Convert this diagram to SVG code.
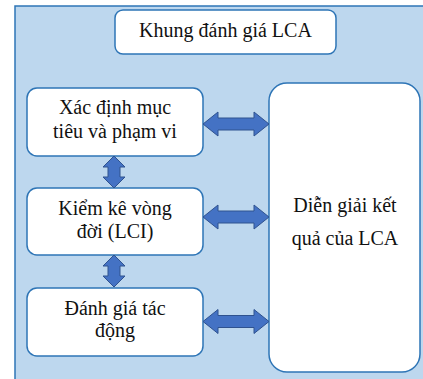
<svg xmlns="http://www.w3.org/2000/svg" width="423" height="379" viewBox="0 0 423 379">
<style>
.panel{fill:#BDD7EE;stroke:#2E75B6;stroke-width:1.5}
.box{fill:#FFFFFF;stroke:#2E75B6;stroke-width:1.5}
.arr{fill:#4472C4;stroke:#2F528F;stroke-width:1}
.t{font-family:'Liberation Serif','Times New Roman','DejaVu Serif',serif;font-size:20px;fill:#111111;text-anchor:middle}
</style>
<rect class="panel" x="15" y="6" width="420" height="385"/>
<g id="title">
<rect class="box" x="115" y="10" width="221" height="44" rx="8"/>
<text class="t" x="225.5" y="37">Khung đánh giá LCA</text>
</g>
<g id="n1">
<rect class="box" x="27" y="88" width="176" height="68" rx="10"/>
<text class="t" x="115" y="114">Xác định mục</text>
<text class="t" x="115" y="138">tiêu và phạm vi</text>
</g>
<g id="n2">
<rect class="box" x="27" y="188" width="176" height="67" rx="10"/>
<text class="t" x="115" y="215">Kiểm kê vòng</text>
<text class="t" x="115" y="238">đời (LCI)</text>
</g>
<g id="n3">
<rect class="box" x="27" y="288" width="176" height="68" rx="10"/>
<text class="t" x="115" y="315">Đánh giá tác</text>
<text class="t" x="115" y="337">động</text>
</g>
<g id="n4">
<rect class="box" x="269" y="83" width="151" height="289" rx="18"/>
<text class="t" x="345" y="212">Diễn giải kết</text>
<text class="t" x="345" y="245">quả của LCA</text>
</g>
<g id="connectors">
<path class="arr" d="M203,124 L218,112 L218,118 L254,118 L254,112 L269,124 L254,136 L254,130 L218,130 L218,136 Z"/>
<path class="arr" d="M203,217 L218,205 L218,211 L254,211 L254,205 L269,217 L254,229 L254,223 L218,223 L218,229 Z"/>
<path class="arr" d="M203,321.5 L218,309.5 L218,315.5 L254,315.5 L254,309.5 L269,321.5 L254,333.5 L254,327.5 L218,327.5 L218,333.5 Z"/>
<path class="arr" d="M114,156 L125,167 L120,167 L120,177 L125,177 L114,188 L103,177 L108,177 L108,167 L103,167 Z"/>
<path class="arr" d="M114,255 L125,266 L120,266 L120,276 L125,276 L114,287 L103,276 L108,276 L108,266 L103,266 Z"/>
</g>
</svg>
